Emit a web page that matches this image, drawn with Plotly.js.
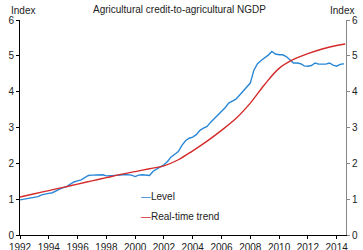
<!DOCTYPE html>
<html>
<head>
<meta charset="utf-8">
<script src="https://cdn.plot.ly/plotly-3.0.1.min.js"></script>
<style>html,body{margin:0;padding:0;background:#fff;}#chart{width:363px;height:250px;}</style>
</head>
<body>
<div id="chart"></div>
<script>
// Quarterly time (decimal year)
const levelYears = [
  1992.0,1992.25,1992.5,1992.75,1993.0,1993.25,1993.5,1993.75,
  1994.0,1994.25,1994.5,1994.75,1995.0,1995.25,1995.5,1995.75,
  1996.0,1996.25,1996.5,1996.75,1997.0,1997.25,1997.5,1997.75,
  1998.0,1998.25,1998.5,1998.75,1999.0,1999.25,1999.5,1999.75,
  2000.0,2000.25,2000.5,2000.75,2001.0,2001.25,2001.5,2001.75,
  2002.0,2002.25,2002.5,2002.75,2003.0,2003.25,2003.5,2003.75,
  2004.0,2004.25,2004.5,2004.75,2005.0,2005.25,2005.5,2005.75,
  2006.0,2006.25,2006.5,2006.75,2007.0,2007.25,2007.5,2007.75,
  2008.0,2008.25,2008.5,2008.75,2009.0,2009.25,2009.5,2009.75,
  2010.0,2010.25,2010.5,2010.75,2011.0,2011.25,2011.5,2011.75,
  2012.0,2012.25,2012.5,2012.75,2013.0,2013.25,2013.5,2013.75,
  2014.0,2014.25,2014.5
];
const levelValues = [
  0.98,1.00,1.02,1.04,1.05,1.07,1.12,1.15,
  1.16,1.18,1.24,1.28,1.32,1.35,1.42,1.48,
  1.51,1.54,1.60,1.66,1.67,1.67,1.69,1.68,
  1.65,1.65,1.66,1.66,1.67,1.69,1.68,1.67,
  1.63,1.67,1.68,1.67,1.66,1.78,1.85,1.90,
  1.96,2.05,2.18,2.26,2.33,2.50,2.63,2.70,
  2.73,2.80,2.92,2.98,3.03,3.15,3.25,3.33,
  3.43,3.55,3.68,3.74,3.79,3.90,4.02,4.12,
  4.24,4.60,4.78,4.87,4.94,5.02,5.12,5.05,
  5.03,5.03,4.98,4.88,4.80,4.80,4.78,4.72,
  4.71,4.73,4.80,4.77,4.77,4.77,4.80,4.74,
  4.71,4.76,4.78
];
const trendYears = [1992,1993,1994,1995,1996,1997,1998,1999,2000,2001,2002,2003,2004,2005,2006,2007,2008,2009,2010,2011,2012,2013,2014,2014.6];
const trendValues = [1.06,1.15,1.24,1.33,1.42,1.51,1.60,1.69,1.77,1.85,1.93,2.10,2.35,2.62,2.92,3.25,3.68,4.20,4.65,4.90,5.06,5.19,5.29,5.33];
const xTicks = [1992,1994,1996,1998,2000,2002,2004,2006,2008,2010,2012,2014];
const xTickLabels = ["1992","1994","1996","1998","2000","2002","2004","2006","2008","2010","2012","2014"];
const yTicks = [0,1,2,3,4,5,6];
const seriesNames = ["Level", "Real-time trend"];
const seriesColors = ["#2a87d6", "#d42a2a"];

const fam = "Liberation Sans, Arial, sans-serif";
const tf = {family: fam, size: 10, color: "#222"};

const traces = [
  {x: levelYears, y: levelValues, name: seriesNames[0], type: "scatter", mode: "lines",
   line: {color: seriesColors[0], width: 1.4}},
  {x: trendYears, y: trendValues, name: seriesNames[1], type: "scatter", mode: "lines",
   line: {color: seriesColors[1], width: 1.4, shape: "spline"}},
  // same trend on the right-hand axis (identical scale) so that axis is drawn
  {x: trendYears, y: trendValues, yaxis: "y2", type: "scatter", mode: "lines", showlegend: false,
   hoverinfo: "skip", line: {color: "rgba(0,0,0,0)", width: 0, shape: "spline"}}
];

const legendAnn = seriesNames.map((n, i) => ({
  text: "<span style='color:" + seriesColors[i] + "'>—</span>" + n,
  xref: "paper", yref: "paper", x: 0.366, y: 0.178 - i * 0.093,
  xanchor: "left", yanchor: "middle", showarrow: false, font: tf
}));

const layout = {
  width: 363, height: 250,
  margin: {l: 20, r: 17, t: 20, b: 15},
  paper_bgcolor: "#fff", plot_bgcolor: "#fff",
  font: tf,
  showlegend: false,
  xaxis: {range: [1992, 2014.65], tickvals: xTicks, ticktext: xTickLabels, showgrid: false, zeroline: false,
          showline: true, linecolor: "#000", linewidth: 1, ticks: "outside", ticklen: 3, tickcolor: "#000",
          tickfont: tf},
  yaxis: {range: [0, 6], tickvals: yTicks, showgrid: false, zeroline: false, showline: true,
          linecolor: "#000", linewidth: 1, ticks: "outside", ticklen: 3, tickcolor: "#000",
          tickfont: tf},
  yaxis2: {range: [0, 6], tickvals: yTicks, overlaying: "y", side: "right", showgrid: false, zeroline: false,
           showline: true, linecolor: "#888", linewidth: 1, ticks: "outside", ticklen: 3, tickcolor: "#888",
           tickfont: tf},
  annotations: [
    {text: "Agricultural credit-to-agricultural NGDP", xref: "paper", yref: "paper", x: 0.49, y: 1, yshift: 11,
     xanchor: "center", yanchor: "middle", showarrow: false, font: tf},
    {text: "Index", xref: "paper", yref: "paper", x: 0, xshift: -11, y: 1, yshift: 10,
     xanchor: "left", yanchor: "middle", showarrow: false, font: tf},
    {text: "Index", xref: "paper", yref: "paper", x: 1, xshift: 10, y: 1, yshift: 10,
     xanchor: "right", yanchor: "middle", showarrow: false, font: tf}
  ].concat(legendAnn)
};

Plotly.newPlot("chart", traces, layout, {displayModeBar: false, staticPlot: true});
</script>
</body>
</html>
